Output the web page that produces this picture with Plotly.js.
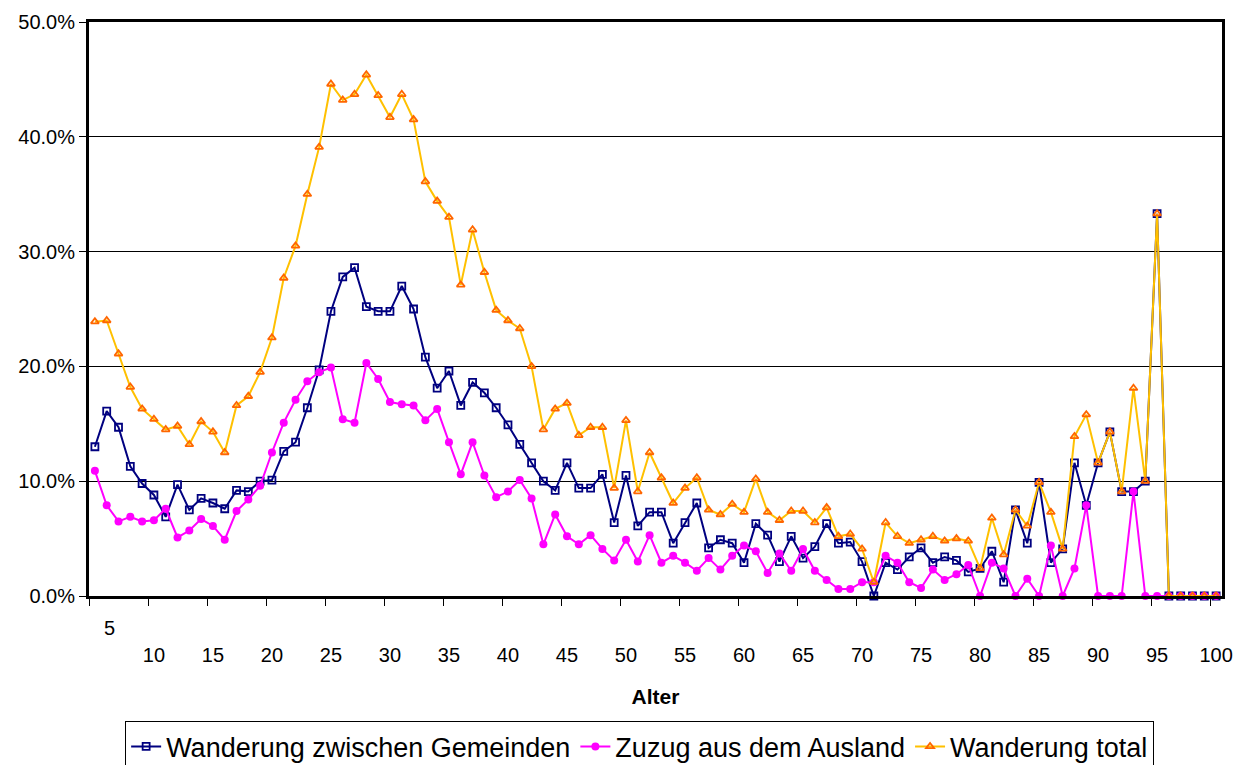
<!DOCTYPE html>
<html>
<head>
<meta charset="utf-8">
<script src="https://cdn.plot.ly/plotly-3.0.1.min.js"></script>
<style>html,body{margin:0;padding:0;background:#fff;}#chart{width:1234px;height:765px;}</style>
</head>
<body>
<div id="chart"></div>
<script>
// Ages 5..100
const ages = [];
for (let a = 5; a <= 100; a++) ages.push(a);

// Values in percent
const zwischenGemeinden = [
  13.0,16.1,14.7,11.3,9.8,8.8,6.9,9.7,7.5,8.5,8.1,7.6,9.2,9.1,10.0,10.1,12.6,13.4,16.4,19.7,
  24.8,27.8,28.6,25.2,24.8,24.8,27.0,25.0,20.8,18.1,19.6,16.6,18.6,17.7,16.4,14.9,13.2,11.6,10.0,9.2,
  11.6,9.4,9.4,10.6,6.4,10.5,6.1,7.3,7.3,4.6,6.4,8.1,4.2,4.9,4.6,2.9,6.3,5.3,3.0,5.2,
  3.3,4.3,6.3,4.6,4.7,3.0,0.0,2.9,2.3,3.4,4.2,2.9,3.4,3.1,2.1,2.4,3.9,1.2,7.5,4.6,
  9.9,2.9,4.1,11.6,7.9,11.6,14.3,9.1,9.1,10.0,33.3,0,0,0,0,0
];
const zuzugAusland = [
  10.9,7.9,6.5,6.9,6.5,6.6,7.6,5.1,5.7,6.7,6.1,4.9,7.4,8.4,9.6,12.5,15.1,17.1,18.7,19.5,
  19.9,15.4,15.1,20.3,18.9,16.9,16.7,16.6,15.3,16.3,13.4,10.6,13.4,10.5,8.6,9.1,10.1,8.5,4.5,7.1,
  5.2,4.5,5.3,4.1,3.1,4.9,3.0,5.3,2.9,3.5,2.9,2.2,3.3,2.3,3.5,4.4,3.9,2.0,3.7,2.2,
  4.1,2.2,1.4,0.6,0.6,1.2,1.2,3.5,2.9,1.2,0.7,2.3,1.4,1.9,2.7,0.0,2.9,2.4,0.0,1.5,
  0.0,4.4,0.0,2.4,7.9,0.0,0.0,0.0,9.1,0.0,0.0,0,0,0,0,0
];
const wanderungTotal = [
  23.9,24.0,21.1,18.2,16.3,15.4,14.5,14.8,13.2,15.2,14.3,12.5,16.6,17.4,19.5,22.5,27.7,30.5,35.0,39.1,
  44.6,43.2,43.7,45.4,43.6,41.7,43.7,41.5,36.1,34.4,33.0,27.1,31.9,28.2,24.9,24.0,23.3,20.0,14.5,16.3,
  16.8,14.0,14.7,14.7,9.4,15.3,9.1,12.5,10.3,8.1,9.4,10.3,7.5,7.1,8.0,7.3,10.2,7.3,6.6,7.4,
  7.4,6.4,7.7,5.2,5.4,4.1,1.2,6.4,5.2,4.6,4.9,5.2,4.8,5.0,4.8,2.4,6.8,3.6,7.5,6.1,
  9.9,7.3,4.1,13.9,15.8,11.6,14.3,9.1,18.1,10.0,33.3,0,0,0,0,0
];

const seriesNames = ["Wanderung zwischen Gemeinden", "Zuzug aus dem Ausland", "Wanderung total"];
const xTickLabels = ["5","10","15","20","25","30","35","40","45","50","55","60","65","70","75","80","85","90","95","100"];
const xTickAges = [5,10,15,20,25,30,35,40,45,50,55,60,65,70,75,80,85,90,95,100];
const yTickVals = [0,0.1,0.2,0.3,0.4,0.5];

const pct = arr => arr.map(v => v / 100);

const traces = [
  {x: ages, y: pct(zwischenGemeinden), name: seriesNames[0], type: 'scatter', mode: 'lines+markers',
   line: {color: '#000080', width: 2}, cliponaxis: false,
   marker: {symbol: 'square-open', size: 7, color: '#000080', line: {width: 1.8, color: '#000080'}}},
  {x: ages, y: pct(zuzugAusland), name: seriesNames[1], type: 'scatter', mode: 'lines+markers',
   line: {color: '#FF00FF', width: 2}, cliponaxis: false,
   marker: {symbol: 'circle', size: 8, color: '#FF00FF'}},
  {x: ages, y: pct(wanderungTotal), name: seriesNames[2], type: 'scatter', mode: 'lines+markers',
   line: {color: '#FFC000', width: 2}, cliponaxis: false,
   marker: {symbol: 'triangle-up-open', size: 7, color: '#FF6600', line: {width: 1.8, color: '#FF6600'}}},
  // invisible trace to activate secondary x-axis for labels
  {x: [ages[0]], y: [0], xaxis: 'x2', type: 'scatter', mode: 'markers', showlegend: false,
   hoverinfo: 'skip', marker: {opacity: 0}}
];

const tickPositions = [];
for (let i = 0; i < 20; i++) tickPositions.push(ages[0] - 0.5 + 5 * i);

const font = {family: 'Arial, "Liberation Sans", sans-serif', color: '#000'};

const layout = {
  width: 1234, height: 765,
  margin: {l: 89, r: 12, t: 22, b: 169},
  paper_bgcolor: '#fff', plot_bgcolor: '#fff',
  font: Object.assign({size: 20}, font),
  showlegend: true,
  xaxis: {
    range: [ages[0] - 0.5, ages[ages.length - 1] + 0.5],
    tickmode: 'array', tickvals: tickPositions, ticktext: tickPositions.map(() => ''),
    ticks: 'outside', ticklen: 7, tickwidth: 1, tickcolor: '#000',
    showgrid: false, zeroline: false,
    showline: true, linecolor: '#000', linewidth: 3, mirror: true,
    title: {text: ''}
  },
  xaxis2: {
    overlaying: 'x', side: 'bottom', anchor: 'y',
    range: [ages[0] - 0.5, ages[ages.length - 1] + 0.5],
    tickmode: 'array', tickvals: xTickAges.slice(1), ticktext: xTickLabels.slice(1),
    ticks: '', showgrid: false, zeroline: false, showline: false,
    ticklabelstandoff: 45,
    tickfont: Object.assign({size: 20}, font),
    title: {text: '<b>Alter</b>', font: Object.assign({size: 21}, font), standoff: 24}
  },
  yaxis: {
    range: [0, 0.5], tickmode: 'array', tickvals: yTickVals, tickformat: '.1%',
    ticks: 'outside', ticklen: 7, tickwidth: 1, tickcolor: '#000',
    showgrid: true, gridcolor: '#000', gridwidth: 1, zeroline: false,
    showline: true, linecolor: '#000', linewidth: 3, mirror: true,
    tickfont: Object.assign({size: 20}, font)
  },
  legend: {
    orientation: 'h', xref: 'paper', yref: 'container',
    x: 0.486, xanchor: 'center', y: 0.057, yanchor: 'top',
    bordercolor: '#000', borderwidth: 1, bgcolor: '#fff',
    font: Object.assign({size: 27}, font),
    itemwidth: 30, tracegroupgap: 0
  },
  annotations: [
    {text: xTickLabels[0], x: 0.018, xref: 'paper', y: -0.055, yref: 'paper',
     xanchor: 'center', yanchor: 'middle', showarrow: false, font: Object.assign({size: 20}, font)}
  ]
};

Plotly.newPlot('chart', traces, layout, {displayModeBar: false, staticPlot: true});
</script>
</body>
</html>
